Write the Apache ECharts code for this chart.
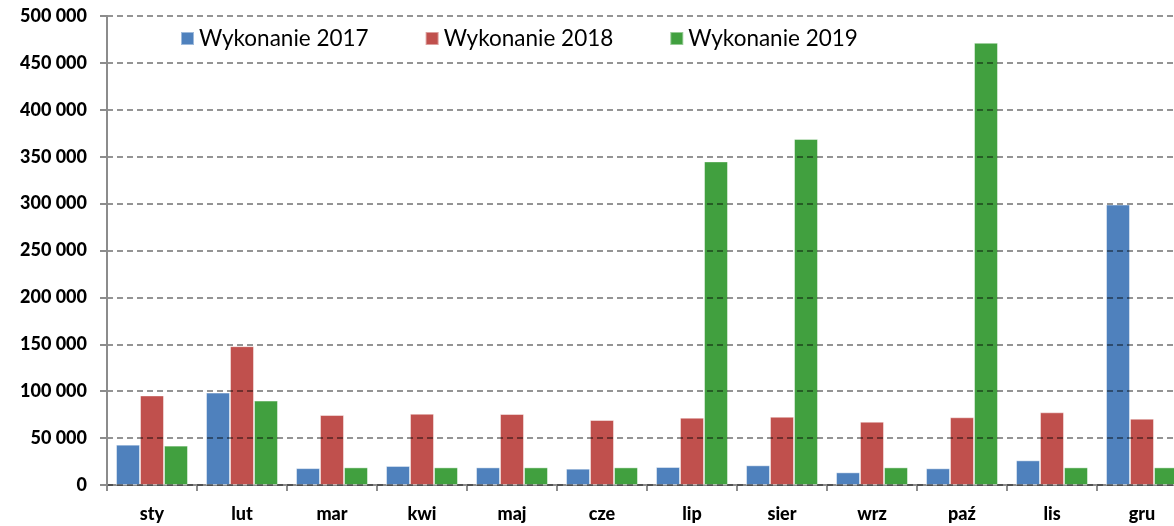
<!DOCTYPE html>
<html>
<head>
<meta charset="utf-8">
<script src="https://cdn.jsdelivr.net/npm/echarts@6/dist/echarts.min.js"></script>
<style>
    html, body { margin: 0; padding: 0; overflow: hidden; background: #fff; }
    #main { width: 1190px; height: 526px; }
</style>
</head>
<body>
<div id="main"></div>
<script>
    // miesiace
    const months = ['sty', 'lut', 'mar', 'kwi', 'maj', 'cze', 'lip', 'sier', 'wrz', 'paź', 'lis', 'gru'];
    const seriesNames = ['Wykonanie 2017', 'Wykonanie 2018', 'Wykonanie 2019'];

    const w2017 = [43000, 98500, 18000, 20300, 18800, 17400, 19200, 21000, 13500, 17800, 26300, 299000];
    const w2018 = [95500, 148000, 74600, 76000, 75700, 69300, 71800, 72800, 67500, 72200, 77500, 70700];
    const w2019 = [42000, 90000, 18800, 18800, 18800, 18800, 345000, 369000, 18800, 471500, 18800, 18800];

    const colors = ['#4F81BD', '#C0504D', '#41A03F'];

    const myChart = echarts.init(document.getElementById('main'));

    function fmt(v) {
        return String(v).replace(/\B(?=(\d{3})+(?!\d))/g, ' ');
    }

    const data = [w2017, w2018, w2019];
    const series = [];
    for (let i = 0; i < data.length; i++) {
        series.push({
            name: seriesNames[i],
            type: 'bar',
            data: data[i],
            barGap: '0%',
            barCategoryGap: '20%',
            itemStyle: {
                color: colors[i],
                borderColor: 'rgba(255,255,255,0.45)',
                borderWidth: 1
            }
        });
    }

    const option = {
        animation: false,
        color: colors,
        textStyle: { fontFamily: 'Lato' },
        legend: {
            left: 175,
            top: 22,
            itemWidth: 13,
            itemHeight: 13,
            itemGap: 56,
            icon: 'rect',
            textStyle: { fontSize: 22.5, color: '#000', fontFamily: 'Lato' },
            data: seriesNames
        },
        grid: { left: 107, right: 3, top: 16, bottom: 41 },
        xAxis: {
            type: 'category',
            data: months,
            axisLine: { lineStyle: { color: '#8c8c8c', width: 2 } },
            axisTick: { show: true, length: 6, lineStyle: { color: '#8c8c8c', width: 2 } },
            axisLabel: { margin: 20, fontSize: 18, fontWeight: 900, color: '#000', fontFamily: 'Lato' }
        },
        yAxis: {
            type: 'value',
            min: 0,
            max: 500000,
            interval: 50000,
            z: 3,
            axisLine: { show: true, lineStyle: { color: '#8c8c8c', width: 2 } },
            axisTick: { show: true, length: 7, lineStyle: { color: '#8c8c8c', width: 2 } },
            axisLabel: {
                margin: 20,
                fontSize: 18,
                fontWeight: 900,
                color: '#000',
                fontFamily: 'Lato',
                formatter: function (value) {
                    return fmt(value);
                }
            },
            splitLine: {
                show: true,
                lineStyle: { color: 'rgba(0,0,0,0.42)', type: [6, 4], width: 2 }
            }
        },
        series: series
    };

    myChart.setOption(option);
</script>
</body>
</html>
